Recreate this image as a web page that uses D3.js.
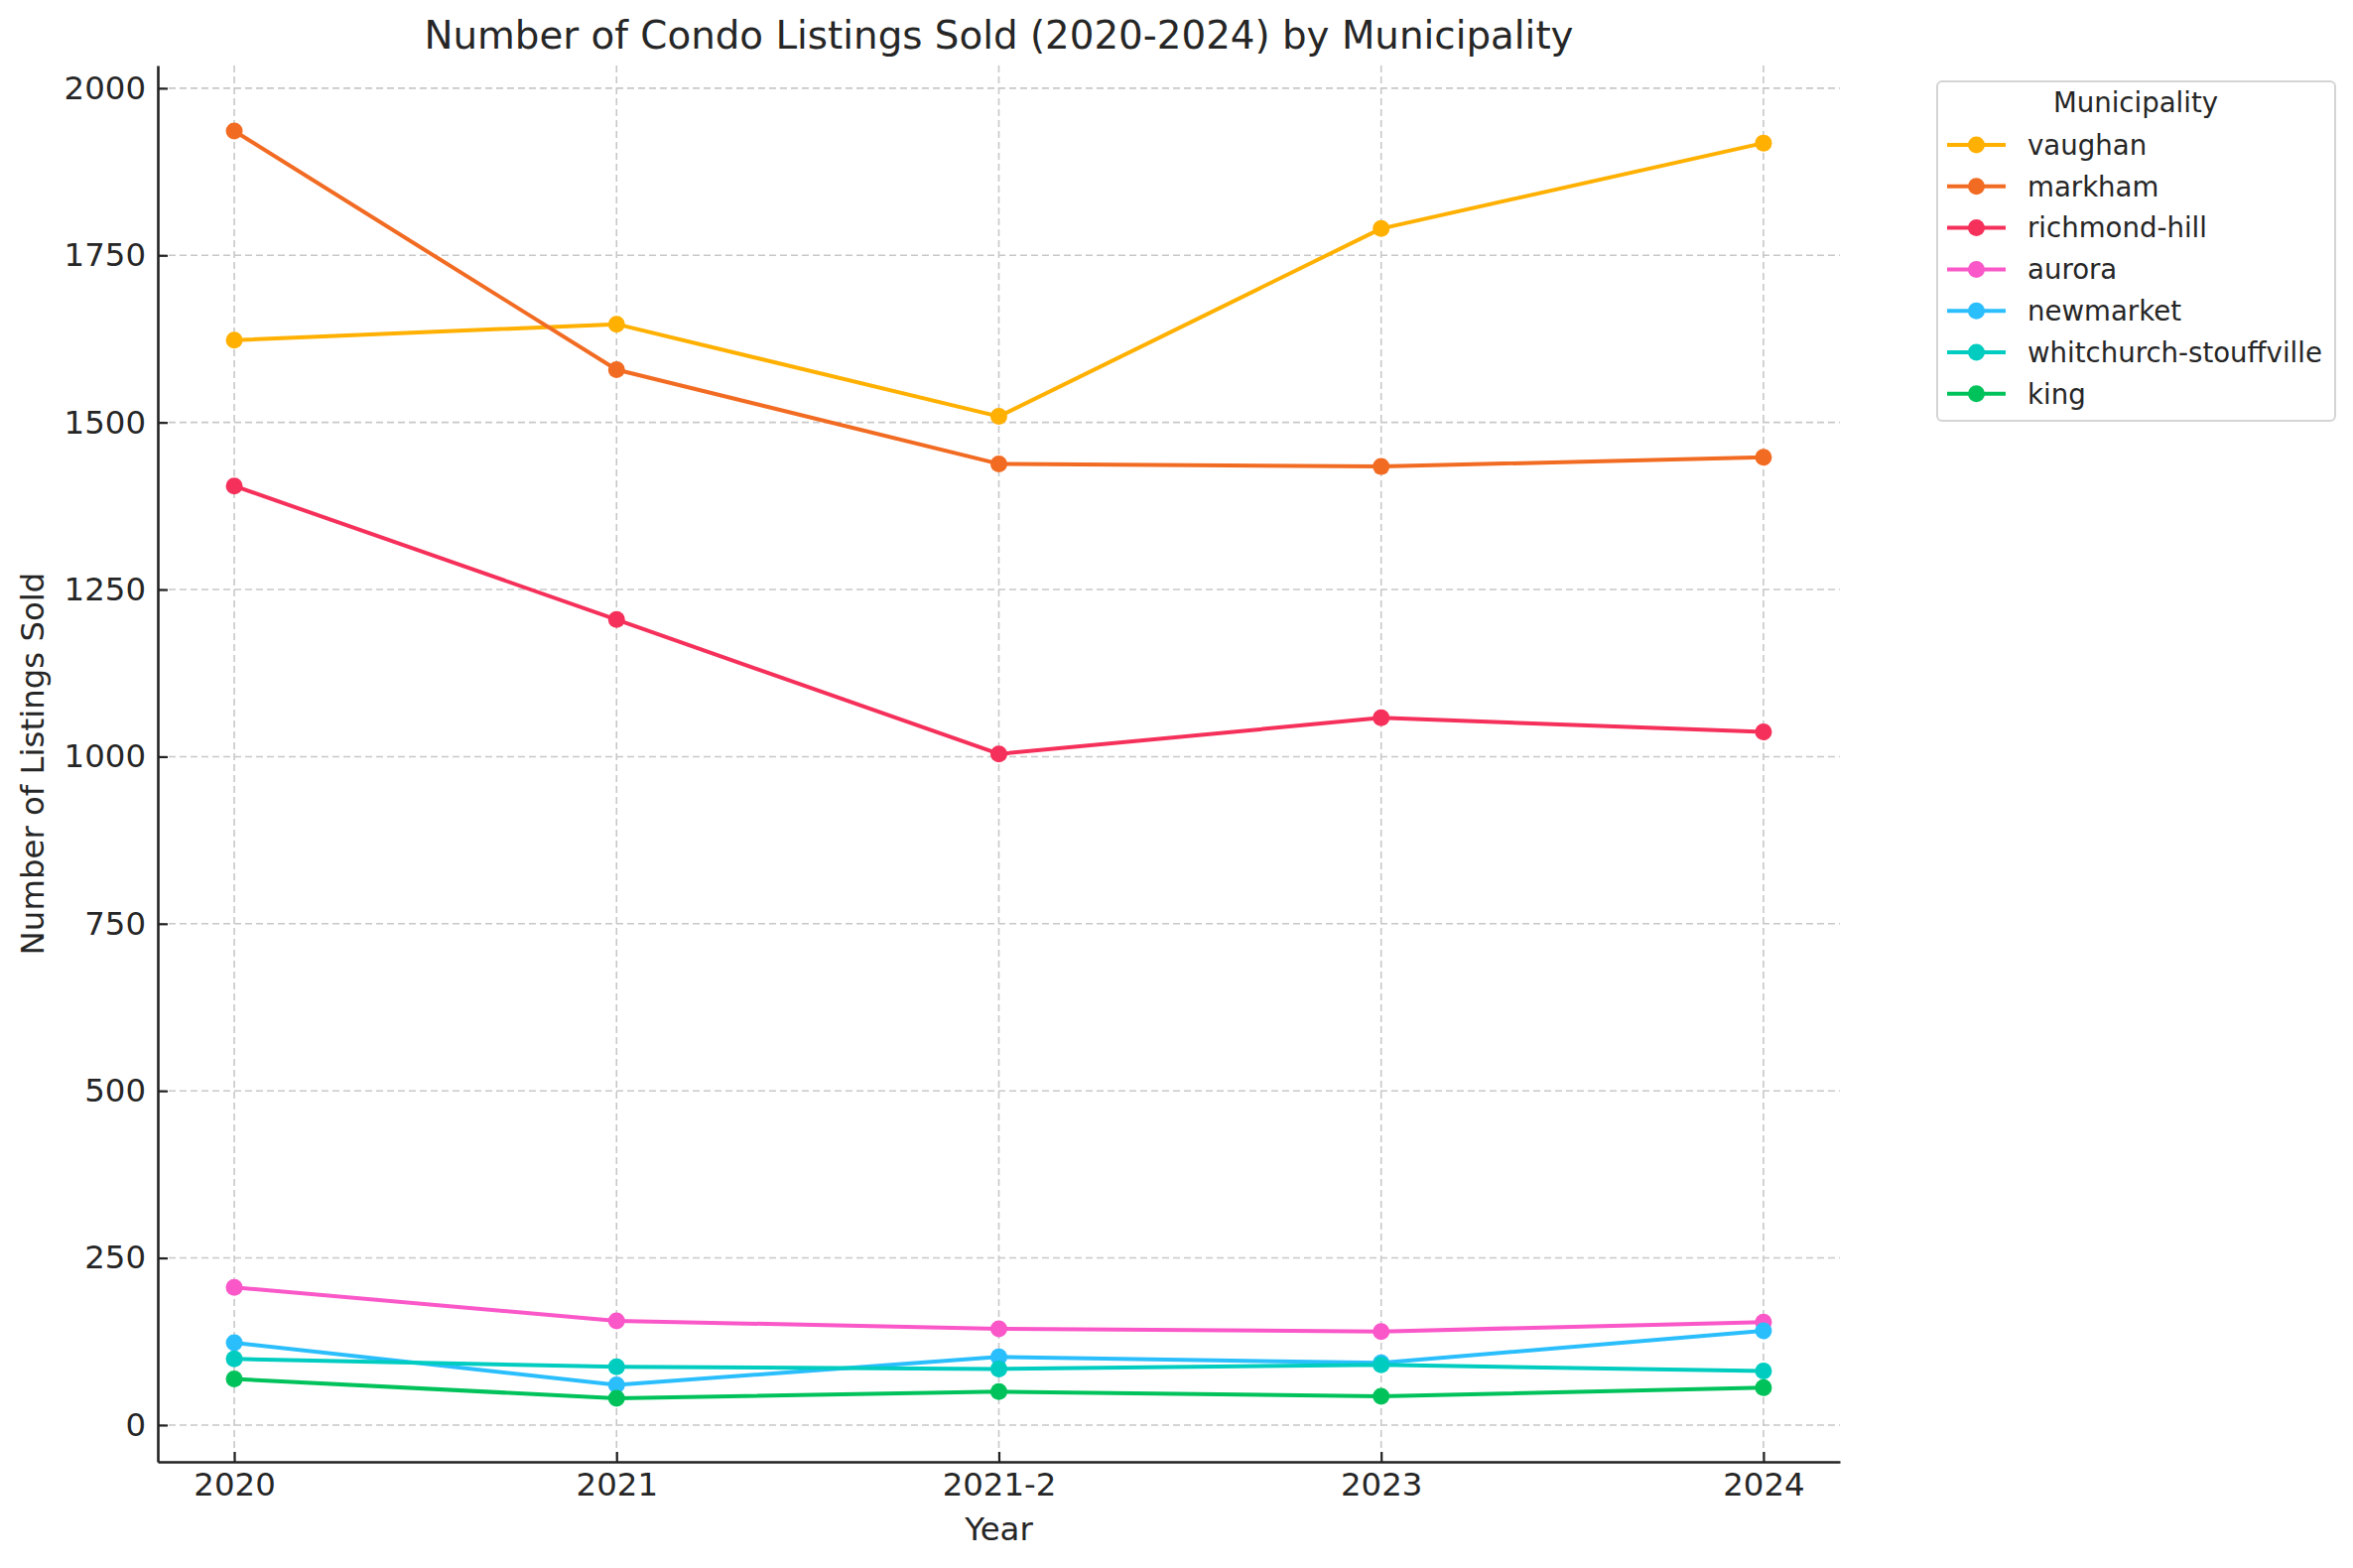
<!DOCTYPE html>
<html><head><meta charset="utf-8">
<script src="https://cdn.jsdelivr.net/npm/d3@7"></script>
<style>
html,body{margin:0;padding:0;background:#fff;}
svg text{font-family:"DejaVu Sans",sans-serif;}
</style></head>
<body>
<svg id="chart" width="2371" height="1580"></svg>
<script>
const years = ["2020","2021","2021-2","2023","2024"];
const municipalities = ["vaughan","markham","richmond-hill","aurora","newmarket","whitchurch-stouffville","king"];
const vaughan = [1623,1647,1509,1790,1918];
const markham = [1936,1579,1438,1434,1448];
const richmondHill = [1405,1205,1004,1058,1037];
const aurora = [206,156,144,140,154];
const newmarket = [123,60,102,93,141];
const whitchurch = [99,87,84,90,81];
const king = [69,40,50,43,56];
const yTicks = [0,250,500,750,1000,1250,1500,1750,2000];
const colors = ["#FFB000","#F26B22","#F5305A","#FA57C8","#2BBEFD","#00CCC0","#00C25A"];
const seriesValues = [vaughan,markham,richmondHill,aurora,newmarket,whitchurch,king];

const svg = d3.select("#chart");
const pL = 159, pR = 1854, pT = 66, pB = 1473;
const x = d3.scaleLinear().domain([-0.2, 4.2]).range([pL, pR]);
const y = d3.scaleLinear().domain([-55, 2034]).range([pB, pT]);
const txt = "#262626";

// grid
const grid = svg.append("g");
grid.selectAll("line.h").data(yTicks).enter().append("line")
  .attr("x1", pL).attr("x2", pR)
  .attr("y1", d => y(d)).attr("y2", d => y(d))
  .attr("stroke", "#c8c8c8").attr("stroke-width", 1.6).attr("stroke-dasharray", "7,4");
grid.selectAll("line.v").data(years).enter().append("line")
  .attr("x1", (d,i) => x(i)).attr("x2", (d,i) => x(i))
  .attr("y1", pT).attr("y2", pB)
  .attr("stroke", "#c8c8c8").attr("stroke-width", 1.6).attr("stroke-dasharray", "7,4");

// axes
const xAxis = d3.axisBottom(x).tickValues(d3.range(years.length)).tickFormat(i => years[i])
  .tickSizeInner(-10).tickSizeOuter(0).tickPadding(11);
const gx = svg.append("g").attr("transform", `translate(0,${pB})`).call(xAxis);
const yAxis = d3.axisLeft(y).tickValues(yTicks).tickFormat(d3.format("d"))
  .tickSizeInner(-10).tickSizeOuter(0).tickPadding(12);
const gy = svg.append("g").attr("transform", `translate(${pL},0)`).call(yAxis);
[gx, gy].forEach(g => {
  g.select(".domain").attr("stroke", "#222").attr("stroke-width", 2.6);
  g.selectAll(".tick line").attr("stroke", "#222").attr("stroke-width", 2.2);
  g.selectAll(".tick text").attr("fill", txt).style("font-size", "32.4px").style("font-family", "DejaVu Sans");
});

// lines
const line = d3.line().x((d,i) => x(i)).y(d => y(d));
municipalities.forEach((m, k) => {
  const vals = seriesValues[k];
  svg.append("path").datum(vals).attr("d", line)
    .attr("fill", "none").attr("stroke", colors[k]).attr("stroke-width", 4).attr("stroke-linejoin", "round");
  svg.append("g").selectAll("circle").data(vals).enter().append("circle")
    .attr("cx", (d,i) => x(i)).attr("cy", d => y(d)).attr("r", 8.5).attr("fill", colors[k]);
});

// title & labels
svg.append("text").attr("x", (pL+pR)/2).attr("y", 49).attr("text-anchor", "middle")
  .attr("fill", txt).style("font-size", "38.8px").text("Number of Condo Listings Sold (2020-2024) by Municipality");
svg.append("text").attr("x", (pL+pR)/2).attr("y", 1552).attr("text-anchor", "middle")
  .attr("fill", txt).style("font-size", "32.4px").text("Year");
svg.append("text").attr("transform", `translate(44,${(pT+pB)/2}) rotate(-90)`).attr("text-anchor", "middle")
  .attr("fill", txt).style("font-size", "32.4px").text("Number of Listings Sold");

// legend
const lg = svg.append("g");
lg.append("rect").attr("x", 1952).attr("y", 82).attr("width", 401).attr("height", 342).attr("rx", 5)
  .attr("fill", "#fff").attr("stroke", "#d4d4d4").attr("stroke-width", 2);
lg.append("text").attr("x", 2152).attr("y", 113).attr("text-anchor", "middle")
  .attr("fill", txt).style("font-size", "27.6px").text("Municipality");
municipalities.forEach((m, k) => {
  const cy = 146 + k * 41.8;
  lg.append("line").attr("x1", 1962).attr("x2", 2021).attr("y1", cy).attr("y2", cy)
    .attr("stroke", colors[k]).attr("stroke-width", 4);
  lg.append("circle").attr("cx", 1991.5).attr("cy", cy).attr("r", 8.5).attr("fill", colors[k]);
  lg.append("text").attr("x", 2043).attr("y", cy + 9.8).attr("fill", txt).style("font-size", "27.6px").text(m);
});
</script>
</body></html>
